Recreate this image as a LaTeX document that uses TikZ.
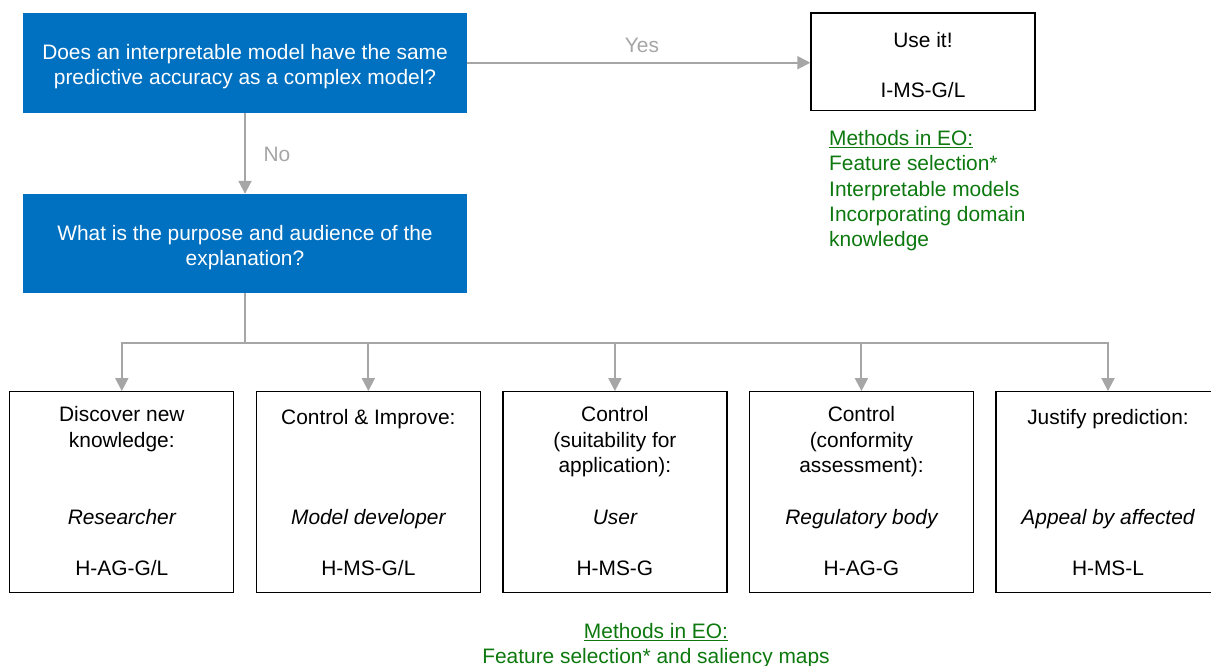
\documentclass[tikz,border=0pt]{standalone}
\usepackage{fontspec}
\setmainfont{Liberation Sans}
\usetikzlibrary{arrows.meta}
\definecolor{qblue}{HTML}{0070C0}
\definecolor{lgrey}{HTML}{A6A6A6}
\definecolor{mgreen}{HTML}{0C780E}
\tikzset{
  txt/.style={font=\fontsize{20.9}{25.3}\selectfont, inner sep=0pt, anchor=north, align=center,
    execute at begin node=\strut, execute at end node=\strut},
  qbox/.style={fill=qblue, draw=none, minimum width=444pt, minimum height=100pt, inner sep=0pt},
  bbox/.style={draw=black, line width=1.3pt, minimum width=224pt, inner sep=0pt},
  arr/.style={draw=lgrey, line width=2pt, -{Triangle[length=13pt,width=13pt]}},
}
\begin{document}
\begin{tikzpicture}[x=1pt,y=-1pt]
\useasboundingbox (0,0) rectangle (1211,665);
\clip (0,0) rectangle (1211,665);
% top question boxes
\node[qbox] (A) at (245,63) {};
\node[qbox, minimum height=99pt] (B) at (245,243.5) {};
\node[txt, text=white] (tA) at (245,44.1) {Does an interpretable model have the same\\predictive accuracy as a complex model?};
\node[txt, text=white] (tB) at (245,224.8) {What is the purpose and audience of the\\explanation?};
% use it box
\node[bbox, minimum height=97.5pt] (use) at (923,61.75) {};
\node[txt] (useT) at (923,29.8) {Use it!};
\node[txt] (useC) at (923,79.8) {I-MS-G/L};
\node[txt, anchor=north west, align=left, text=mgreen] (meth1) at (829,130.3) {\underline{Methods in EO:}\\Feature selection*\\Interpretable models\\Incorporating domain\\knowledge};
% yes / no
\draw[arr] (A.east |- 0,62.7) -- (use.west |- 0,62.7);
\node[txt, text=lgrey] (yes) at (642,34.8) {Yes};
\draw[arr] (A.south) -- (B.north);
\node[txt, text=lgrey] (no) at (277,143.1) {No};
% bottom boxes
\foreach \c/\n in {121.8/b1, 368.35/b2, 614.9/b3, 861.45/b4, 1108/b5}{
  \node[bbox, minimum height=200.6pt] (\n) at (\c,492) {};
}
\coordinate (split) at (245,342.7);
\draw[draw=lgrey, line width=2pt] (B.south) -- (split);
\foreach \n in {b1,b2,b3,b4,b5}{
  \draw[arr] (split) -| (\n.north);
}
% bottom texts
\node[txt] (t1) at (b1.north |- 0,406.5) {Discover new\\knowledge:};
\node[txt] (t2) at (b2.north |- 0,406.5) {Control \& Improve:};
\node[txt] (t3) at (b3.north |- 0,406.5) {Control\\(suitability for\\application):};
\node[txt] (t4) at (b4.north |- 0,406.5) {Control\\(conformity\\assessment):};
\node[txt] (t5) at (b5.north |- 0,406.5) {Justify prediction:};
\node[txt, font=\fontsize{20.9}{25.3}\selectfont\itshape] (r1) at (b1.north |- 0,506.8) {Researcher};
\node[txt, font=\fontsize{20.9}{25.3}\selectfont\itshape] (r2) at (b2.north |- 0,506.8) {Model developer};
\node[txt, font=\fontsize{20.9}{25.3}\selectfont\itshape] (r3) at (b3.north |- 0,506.8) {User};
\node[txt, font=\fontsize{20.9}{25.3}\selectfont\itshape] (r4) at (b4.north |- 0,506.8) {Regulatory body};
\node[txt, font=\fontsize{20.9}{25.3}\selectfont\itshape] (r5) at (b5.north |- 0,506.8) {Appeal by affected};
\node[txt] (c1) at (b1.north |- 0,557.5) {H-AG-G/L};
\node[txt] (c2) at (b2.north |- 0,557.5) {H-MS-G/L};
\node[txt] (c3) at (b3.north |- 0,557.5) {H-MS-G};
\node[txt] (c4) at (b4.north |- 0,557.5) {H-AG-G};
\node[txt] (c5) at (b5.north |- 0,557.5) {H-MS-L};
\node[txt, text=mgreen] (meth2) at (656,623.1) {\underline{Methods in EO:}\\Feature selection* and saliency maps};
\end{tikzpicture}
\end{document}
